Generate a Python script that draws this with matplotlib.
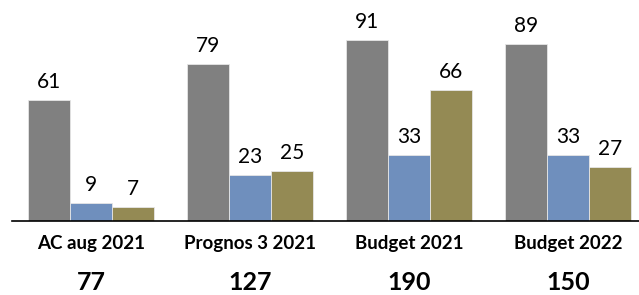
import numpy as np
import matplotlib
matplotlib.use("Agg")
import matplotlib.pyplot as plt
import matplotlib.transforms as mtransforms

plt.rcParams['font.family'] = ['Lato', 'DejaVu Sans']

categories = ["AC aug 2021", "Prognos 3 2021", "Budget 2021", "Budget 2022"]
totals = [77, 127, 190, 150]
gray_vals = [61, 79, 91, 89]
blue_vals = [9, 23, 33, 33]
olive_vals = [7, 25, 66, 27]

colors = ["#808080", "#6f8fbd", "#948a54"]

fig = plt.figure(figsize=(6.39, 2.95), dpi=100)
ax = fig.add_axes([12 / 639, 74 / 295, 1 - 12 / 639, 221 / 295])

x = np.arange(len(categories))
w = 0.264
for i, (vals, c) in enumerate(zip([gray_vals, blue_vals, olive_vals], colors)):
    pos = x + (i - 1) * w
    ax.bar(pos, vals, width=w, color=c, edgecolor="#e6e6e6", linewidth=0.6)
    for xp, v in zip(pos, vals):
        ax.text(xp, v + 4, str(v), ha="center", va="bottom", fontsize=15, color="#000000")

ax.set_xlim(-0.497, 3.447)
ax.set_ylim(0, 111)
for s in ["top", "right", "left"]:
    ax.spines[s].set_visible(False)
ax.spines["bottom"].set_linewidth(1.2)
ax.spines["bottom"].set_color("#000000")
ax.set_yticks([])
ax.set_xticks([])

trans = mtransforms.blended_transform_factory(ax.transData, fig.transFigure)
for xp, cat, tot in zip(x, categories, totals):
    ax.text(xp, 1 - 243 / 295, cat, transform=trans, ha="center", va="center",
            fontsize=13.5, fontweight="bold")
    ax.text(xp, 1 - 283 / 295, str(tot), transform=trans, ha="center", va="center",
            fontsize=18, fontweight="bold")

fig.savefig("out.png", dpi=100)
